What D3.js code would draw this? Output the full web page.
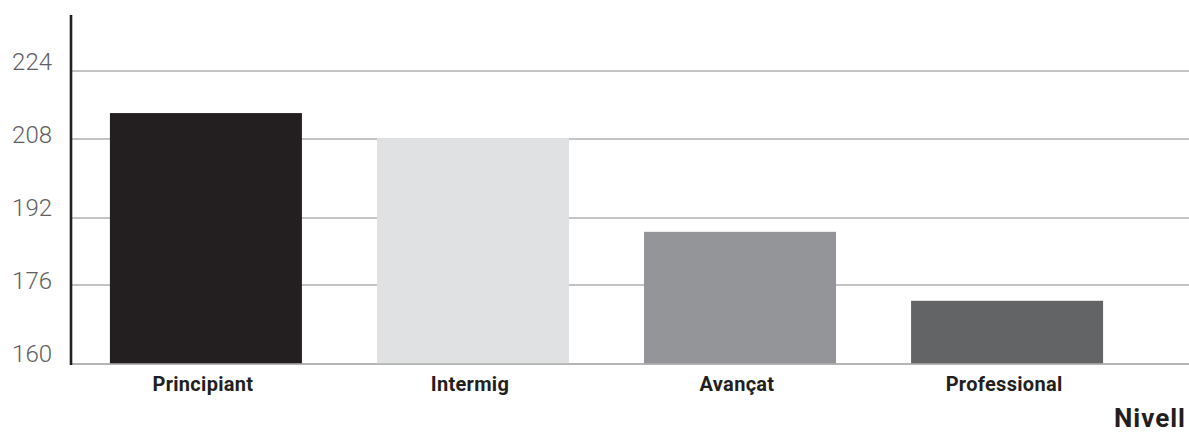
<!DOCTYPE html>
<html>
<head>
<meta charset="utf-8">
<script src="https://cdn.jsdelivr.net/npm/d3@7"></script>
<style>
  body { margin: 0; background: #fff; }
  svg { display: block; }
</style>
</head>
<body>
<div id="chart"></div>
<script>
var w = 1189, h = 432

// data
var nivells = ["Principiant", "Intermig", "Avançat", "Professional"]
var valors = [214.1, 208.2, 188.7, 172.8]
var colors = ["#231f20", "#e0e1e3", "#939598", "#636466"]
var ticks = [160, 176, 192, 208, 224]
var titolX = "Nivell"

var svg = d3.select("#chart")
  .append("svg")
  .attr("width", w)
  .attr("height", h)

// gridlines in the picture are not evenly spaced, so the scale follows them
var y = d3.scaleLinear()
  .domain(ticks)
  .range([364, 285, 218, 139, 71])

// labels sit evenly
var yLab = d3.scaleLinear()
  .domain([160, 224])
  .range([362, 70])

var x = d3.scaleBand()
  .domain(nivells)
  .range([72, 1141])
  .paddingInner(0.281)
  .paddingOuter(0.142)

// gridlines
svg.append("g")
  .selectAll("line")
  .data(ticks)
  .enter()
  .append("line")
  .attr("x1", 72)
  .attr("x2", w)
  .attr("y1", function(d){ return y(d) })
  .attr("y2", function(d){ return y(d) })
  .style("stroke", "#b1b1b1")
  .style("stroke-width", 1.6)

// bars
svg.append("g")
  .selectAll("rect")
  .data(valors)
  .enter()
  .append("rect")
  .attr("x", function(d, i){ return x(nivells[i]) })
  .attr("width", x.bandwidth())
  .attr("y", function(d){ return y(d) })
  .attr("height", function(d){ return y(160) - y(d) })
  .style("fill", function(d, i){ return colors[i] })

// baseline
svg.append("line")
  .attr("x1", 70).attr("x2", w)
  .attr("y1", y(160)).attr("y2", y(160))
  .style("stroke", "#b1b1b1")
  .style("stroke-width", 1.6)

// y axis line
svg.append("line")
  .attr("x1", 71).attr("x2", 71)
  .attr("y1", 15).attr("y2", y(160) + 1)
  .style("stroke", "#231f20")
  .style("stroke-width", 2.6)

// y labels
svg.append("g")
  .selectAll("text")
  .data(ticks)
  .enter()
  .append("text")
  .attr("x", 52)
  .attr("y", function(d){ return yLab(d) })
  .attr("text-anchor", "end")
  .style("font-family", "Roboto")
  .style("font-weight", "300")
  .style("font-size", "24px")
  .style("fill", "#606062")
  .text(function(d){ return d })

// category labels
svg.append("g")
  .selectAll("text")
  .data(nivells)
  .enter()
  .append("text")
  .attr("x", function(d){ return x(d) + x.bandwidth() / 2 - 3 })
  .attr("y", 391)
  .attr("text-anchor", "middle")
  .style("font-family", "Roboto")
  .style("font-weight", "700")
  .style("font-size", "20px")
  .style("letter-spacing", "0.3px")
  .style("fill", "#231f20")
  .text(function(d){ return d })

// axis title
svg.append("text")
  .attr("x", 1186)
  .attr("y", 427)
  .attr("text-anchor", "end")
  .style("font-family", "Roboto")
  .style("font-weight", "700")
  .style("font-size", "26px")
  .style("letter-spacing", "1px")
  .style("fill", "#231f20")
  .text(titolX)
</script>
</body>
</html>
